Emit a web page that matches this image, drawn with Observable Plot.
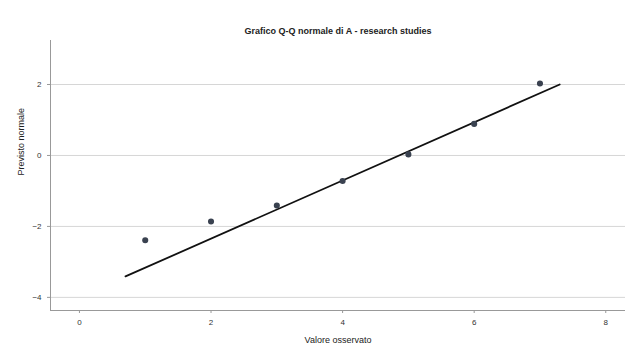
<!DOCTYPE html>
<html>
<head>
<meta charset="utf-8">
<script src="https://cdn.jsdelivr.net/npm/d3@7"></script>
<script src="https://cdn.jsdelivr.net/npm/@observablehq/plot@0.6"></script>
<style>
  body { margin: 0; background: #fff; }
  #chart svg { display: block; }
</style>
</head>
<body>
<div id="chart"></div>
<script>
const observed = [1, 2, 3, 4, 5, 6, 7];
const expected = [-2.39, -1.86, -1.41, -0.72, 0.03, 0.89, 2.03];
const lineX = [0.70, 7.30];
const lineY = [-3.41, 2.0];
const xTicks = [0, 2, 4, 6, 8];
const yTicks = [2, 0, -2, -4];
const title = "Grafico Q-Q normale di A - research studies";
const xLabel = "Valore osservato";
const yLabel = "Previsto normale";

const points = observed.map((x, i) => ({x, y: expected[i]}));
const lineData = lineX.map((x, i) => ({x, y: lineY[i]}));

const plot = Plot.plot({
  width: 637,
  height: 359,
  marginTop: 40,
  marginBottom: 49,
  marginLeft: 50,
  marginRight: 12,
  style: {fontFamily: "Liberation Sans, Arial, sans-serif", fontSize: "8px", color: "#333", background: "#fff"},
  x: {domain: [-0.44, 8.3], ticks: xTicks, tickSize: 3, label: null},
  y: {domain: [-4.37, 3.24], ticks: yTicks, tickSize: 3, label: null},
  marks: [
    Plot.gridY(yTicks, {stroke: "#d6d6d6", strokeOpacity: 1, strokeWidth: 1}),
    Plot.axisX({ticks: xTicks, tickSize: 3, label: null, stroke: "#999", fill: "#333"}),
    Plot.axisY({ticks: yTicks, tickSize: 3, label: null, stroke: "#999", fill: "#333", tickPadding: 6}),
    Plot.ruleX([-0.44], {stroke: "#999"}),
    Plot.ruleY([-4.37], {stroke: "#999"}),
    Plot.line(lineData, {x: "x", y: "y", stroke: "#111", strokeWidth: 1.8}),
    Plot.dot(points, {x: "x", y: "y", r: 2.3, fill: "#3a4250", stroke: "#3a4250"}),
    Plot.text([title], {frameAnchor: "top", dy: -13, fontSize: 9, fontWeight: "bold", fill: "#222"}),
    Plot.text([xLabel], {frameAnchor: "bottom", dy: 32, fontSize: 9, fill: "#222"}),
    Plot.text([yLabel], {frameAnchor: "left", dx: -29, rotate: -90, fontSize: 9, fill: "#222"})
  ]
});
document.getElementById("chart").append(plot);
</script>
</body>
</html>
